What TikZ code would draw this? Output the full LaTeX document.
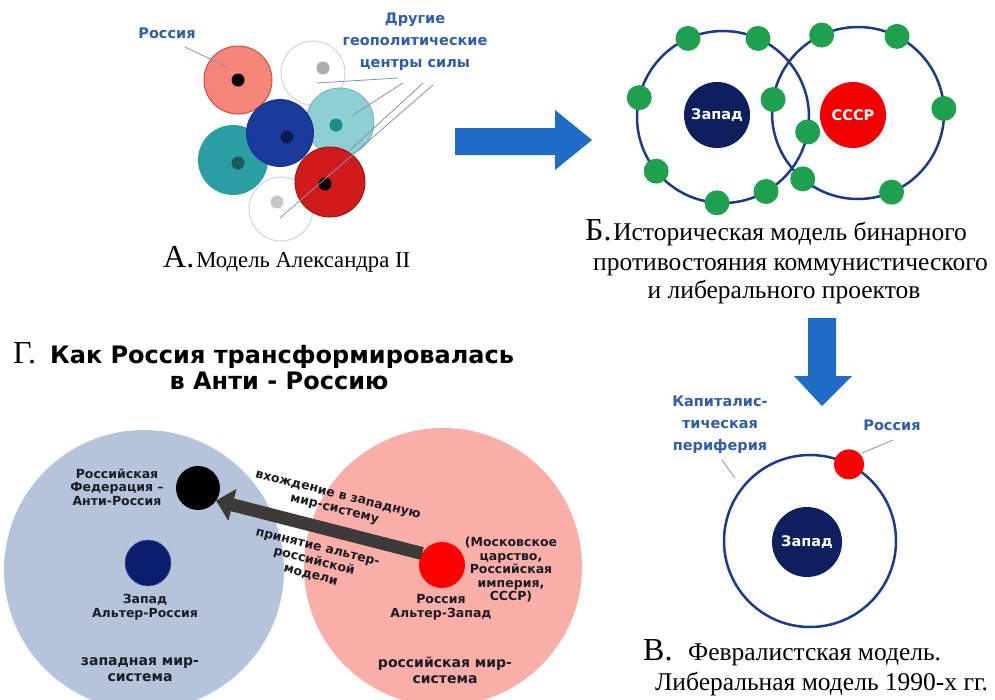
\documentclass[tikz,border=0pt]{standalone}
\usepackage{fontspec}
\setmainfont{Liberation Serif}
\newfontfamily\lbl{DejaVu Sans}
\usetikzlibrary{arrows.meta,calc}
\definecolor{lblblue}{HTML}{2F5DA8}
\definecolor{ringblue}{HTML}{1A3A8C}
\definecolor{navyc}{HTML}{0E1F5E}
\definecolor{greenc}{HTML}{1FA04E}
\definecolor{arrowblue}{HTML}{1F6CC6}
\definecolor{pinkA}{HTML}{F6857A}
\definecolor{pinkAd}{HTML}{D04A40}
\definecolor{tealA}{HTML}{2A9EA3}
\definecolor{tealAd}{HTML}{1B5A5C}
\definecolor{ltealA}{HTML}{8DCFD2}
\definecolor{ltealAd}{HTML}{1A8A8A}
\definecolor{navyA}{HTML}{1A3A9C}
\definecolor{navyAd}{HTML}{0D1A4F}
\definecolor{redA}{HTML}{D11A1A}
\definecolor{redAd}{HTML}{A01515}
\definecolor{bluebg}{HTML}{B5C4DA}
\definecolor{pinkbg}{HTML}{F9AEA7}
\definecolor{arrowgray}{HTML}{3E3A3A}
\definecolor{leader}{HTML}{8392B8}
\definecolor{navyG}{HTML}{0A1E6E}
\definecolor{darktxt}{HTML}{1C1C26}
\tikzset{
  disc/.style={circle,inner sep=0pt,outer sep=0pt,minimum size=#1},
  bluelbl/.style={font=\lbl\bfseries\fontsize{14.5}{22}\selectfont,text=lblblue,align=center,inner sep=0pt},
  gl/.style={font=\lbl\bfseries\fontsize{12.5}{13.5}\selectfont,text=darktxt,align=center,inner sep=0pt},
  glrot/.style={font=\lbl\bfseries\fontsize{12.5}{14.5}\selectfont,text=darktxt,align=center,inner sep=0pt,rotate=-14},
  glbig/.style={font=\lbl\bfseries\fontsize{14}{16}\selectfont,text=darktxt,align=center,inner sep=0pt},
  leadline/.style={draw=leader,line width=0.8pt},
  ringst/.style={draw=ringblue,line width=2.5pt},
  gdot/.style={disc=25pt,fill=greenc},
  captxt/.style={inner sep=0pt,anchor=base west},
  innerlbl/.style={text=white,font=\lbl\bfseries\fontsize{14.5}{15}\selectfont}
}
\newcommand{\biglet}[1]{{\fontsize{32}{32}\selectfont #1}}
\newcommand{\capt}{\fontsize{25.5}{29}\selectfont}
\begin{document}
\begin{tikzpicture}[x=1pt,y=-1pt]
\useasboundingbox (0,0) rectangle (995,699);

% ---------------- Panel A ----------------
\node[disc=64pt,fill=white,draw=gray!35,line width=1pt] (wt) at (313,73) {};
\node[disc=13pt,fill=gray!65] (wtd) at (323,68) {};
\node[disc=64pt,fill=white,draw=gray!35,line width=1pt] (wb) at (281,209) {};
\node[disc=13pt,fill=gray!45] (wbd) at (277,202) {};
\node[disc=68pt,fill=pinkA,draw=pinkAd,line width=1pt] (pk) at (238,80) {};
\node[disc=13pt,fill=black] (pkd) at (238,80) {};
\node[disc=70pt,fill=tealA] (tl) at (233,160) {};
\node[disc=13pt,fill=tealAd] (tld) at (238,163) {};
\node[disc=68pt,fill=ltealA,draw=ltealA!85!black,line width=0.8pt] (lt) at (340,122) {};
\node[disc=13pt,fill=ltealAd] (ltd) at (336,125) {};
\node[disc=67pt,fill=navyA,draw=navyA!85!black,line width=0.8pt] (nv) at (280,133) {};
\node[disc=13pt,fill=navyAd] (nvd) at (287,137) {};
\node[disc=70pt,fill=redA,draw=redAd,line width=1pt] (rd) at (330,182) {};
\node[disc=13pt,fill=black] (rdd) at (325,184) {};

\node[bluelbl] (rusA) at (167,33) {Россия};
\node[bluelbl] (othA) at (415,42) {Другие\\геополитические\\центры силы};
\coordinate (a1s) at (185,47); \coordinate (a1e) at (227,67);
\coordinate (b1s) at (398,78); \coordinate (b1e) at (317,83);
\coordinate (b2s) at (403,83); \coordinate (b2e) at (353,115);
\coordinate (b3s) at (423,83); \coordinate (b3e) at (350,150);
\coordinate (b4s) at (433,85); \coordinate (b4e) at (280,218);
\draw[leadline] (a1s) -- (a1e);
\draw[leadline] (b1s) -- (b1e);
\draw[leadline] (b2s) -- (b2e);
\draw[leadline] (b3s) -- (b3e);
\draw[leadline] (b4s) -- (b4e);

\node[captxt] (capA) at (163,267) {\biglet{А.}\hspace{2pt}{\fontsize{22.7}{26}\selectfont Модель Александра II}};

% arrow right
\fill[arrowblue] (455,128) -- (555,128) -- (555,110) -- (592,140) -- (555,170) -- (555,155) -- (455,155) -- cycle;

% ---------------- Panel B ----------------
\node[disc=172pt,ringst] (ringL) at (723,117) {};
\node[disc=172pt,ringst] (ringR) at (858,113) {};
\node[disc=66pt,fill=navyc,innerlbl] (zapB) at (717,115) {Запад};
\node[disc=66pt,fill=red!95!black,innerlbl] (sssr) at (853,115) {СССР};
\foreach \a [count=\i] in {114,66,167,219,266,300,350}{
  \node[gdot] (gL\i) at (ringL.\a) {};
}
\foreach \a [count=\i] in {115,63,3,171,230,293}{
  \node[gdot] (gR\i) at (ringR.\a) {};
}
\node[captxt] (capB1) at (585,240) {\biglet{Б.}\,{\capt Историческая модель бинарного}};
\node[captxt] (capB2) at (593,270) {\capt противостояния коммунистического};
\node[inner sep=0pt,anchor=base] (capB3) at (784,298) {\capt и либерального проектов};

% arrow down
\fill[arrowblue] (808,318) -- (836,318) -- (836,376) -- (852,376) -- (822,406) -- (794,376) -- (808,376) -- cycle;

% ---------------- Panel V ----------------
\node[disc=172pt,ringst] (ringV) at (810,541) {};
\node[disc=70pt,fill=navyc,innerlbl] (zapV) at (807,542) {Запад};
\node[disc=30pt,fill=red] (rusV) at (ringV.63) {};
\node[bluelbl] (kap) at (720,425) {Капиталис-\\тическая\\периферия};
\node[bluelbl] (rusVl) at (892,425) {Россия};
\coordinate (c1s) at (722,460); \coordinate (c1e) at (735,478);
\coordinate (c2s) at (893,440); \coordinate (c2e) at (862,453);
\draw[leadline] (c1s) -- (c1e);
\draw[leadline] (c2s) -- (c2e);
\node[captxt] (capV0) at (643,660) {\biglet{В.}};
\node[captxt] (capV1) at (688,660) {\capt Февралистская модель.};
\node[captxt] (capV2) at (655,690) {\capt Либеральная модель 1990-х гг.};

% ---------------- Panel G ----------------
\node[captxt] (titG0) at (13,363) {\biglet{Г.}};
\node[captxt,font=\lbl\bfseries\fontsize{24}{26}\selectfont] (titG1) at (50,363) {Как Россия трансформировалась};
\node[inner sep=0pt,anchor=base,font=\lbl\bfseries\fontsize{24}{26}\selectfont] (titG2) at (279,389) {в Анти - Россию};

\node[disc=280pt,fill=bluebg] (wsys) at (144,570) {};
\node[disc=278pt,fill=pinkbg] (rsys) at (443,567) {};
\node[disc=44pt,fill=black] (antiR) at (198,488) {};
\node[disc=46pt,fill=navyG,draw=navyG!70!white,line width=0.6pt] (zapG) at (148,563) {};
\node[disc=46pt,fill=red] (rusG) at (442,565) {};
\draw[arrowgray,line width=13pt,-{Triangle[length=17pt,width=32pt]}] (rusG.150) -- (antiR.-35);

\node[glrot] (lab1) at (336,503) {вхождение в западную\\мир-систему};
\node[glrot] (lab2) at (314,562) {принятие альтер-\\российской\\модели};
\node[gl] (rfl) at (117,487) {Российская\\Федерация –\\Анти-Россия};
\node[gl] (zal) at (145,607) {Запад\\Альтер-Россия};
\node[glbig] (wsl) at (140,670) {западная мир-\\система};
\node[gl] (msk) at (511,570) {(Московское\\царство,\\Российская\\империя,\\СССР)};
\node[gl] (raz) at (441,607) {Россия\\Альтер-Запад};
\node[glbig] (rsl) at (445,670) {российская мир-\\система};
\end{tikzpicture}
\end{document}
